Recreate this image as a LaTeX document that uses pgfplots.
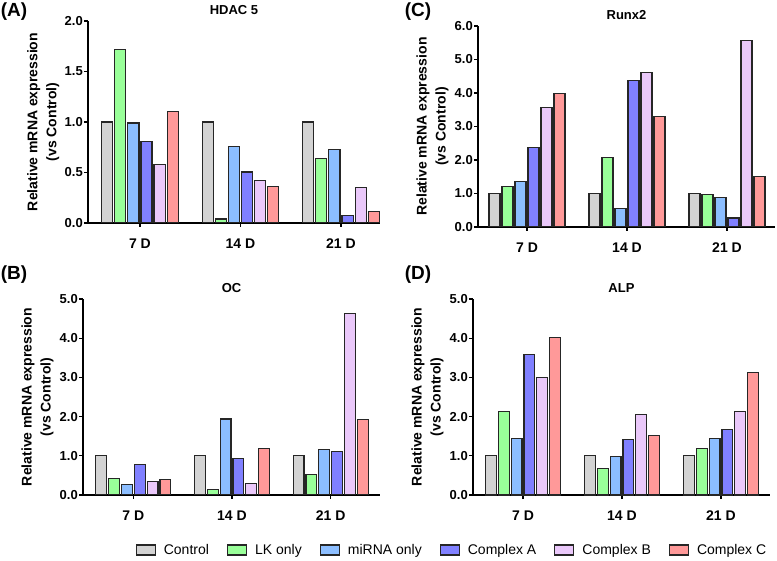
\documentclass[border=0pt]{standalone}
\usepackage{fontspec}
\setmainfont{Liberation Sans}
\usepackage{pgfplots}
\usepackage{pgfplotstable}
\pgfplotsset{compat=1.18}

\definecolor{cctrl}{RGB}{211,211,211}
\definecolor{clk}{RGB}{153,255,153}
\definecolor{cmir}{RGB}{140,190,255}
\definecolor{cca}{RGB}{128,128,255}
\definecolor{ccb}{RGB}{234,200,250}
\definecolor{ccc}{RGB}{255,153,153}

% x: 0 = 7 D, 1 = 14 D, 2 = 21 D
\pgfplotstableread{
x ctrl lk mir ca cb cc
0 1.00 1.72 0.99 0.81 0.58 1.10
1 1.00 0.04 0.76 0.505 0.42 0.36
2 1.00 0.635 0.73 0.07 0.355 0.11
}\hdac
\pgfplotstableread{
x ctrl lk mir ca cb cc
0 1.00 1.22 1.35 2.37 3.56 3.99
1 1.00 2.07 0.55 4.37 4.62 3.29
2 1.00 0.98 0.89 0.27 5.57 1.52
}\runx
\pgfplotstableread{
x ctrl lk mir ca cb cc
0 1.00 0.43 0.26 0.78 0.35 0.39
1 1.00 0.15 1.94 0.92 0.29 1.18
2 1.00 0.53 1.15 1.12 4.63 1.92
}\oc
\pgfplotstableread{
x ctrl lk mir ca cb cc
0 1.00 2.14 1.43 3.59 2.99 4.01
1 1.00 0.68 0.98 1.42 2.06 1.51
2 1.00 1.19 1.45 1.67 2.12 3.13
}\alp

\pgfplotsset{
  panel/.style={
    scale only axis, anchor=south west,
    ybar, bar width=0.11, ymin=0, enlargelimits=false,
    axis lines*=left, axis line style={line width=1.3pt},
    xtick={0,1,2}, xticklabels={7 D,14 D,21 D},
    tick align=outside, major tick length=4pt,
    tick style={line width=1.3pt, black},
    xticklabel style={font=\fontsize{14}{14}\selectfont\bfseries, yshift=-8pt},
    yticklabel style={font=\fontsize{13}{13}\selectfont\bfseries, inner sep=1pt,
      /pgf/number format/.cd, fixed, fixed zerofill, precision=1, assume math mode=true},
    title style={font=\fontsize{13}{13}\selectfont\bfseries, at={(0.5,1)}, anchor=center, yshift=5pt},
    ylabel={Relative mRNA expression\\(vs Control)},
    ylabel style={font=\fontsize{14}{19}\selectfont\bfseries, align=center,
      at={(axis description cs:-0.153,0.5)}, anchor=center},
  },
  bars/.style={draw=black!85, line width=1.1pt,
    legend image code/.code={\draw[##1] (0pt,-5pt) rectangle (19pt,5pt);}},
  s1/.style={bars, fill=cctrl, bar shift=-0.325},
  s2/.style={bars, fill=clk, bar shift=-0.195},
  s3/.style={bars, fill=cmir, bar shift=-0.065},
  s4/.style={bars, fill=cca, bar shift=0.065},
  s5/.style={bars, fill=ccb, bar shift=0.195},
  s6/.style={bars, fill=ccc, bar shift=0.325},
}

\begin{document}
\begin{tikzpicture}
\useasboundingbox (0,0) rectangle (777pt,560pt);

\node[font=\fontsize{19}{19}\selectfont\bfseries] at (14pt,548pt) {(A)};
\node[font=\fontsize{19}{19}\selectfont\bfseries] at (418pt,548pt) {(C)};
\node[font=\fontsize{19}{19}\selectfont\bfseries] at (14pt,285pt) {(B)};
\node[font=\fontsize{19}{19}\selectfont\bfseries] at (418pt,285pt) {(D)};

% (A) HDAC 5
\begin{axis}[panel, at={(88pt,337pt)}, width=292pt, height=202pt,
  xmin=-0.517, xmax=2.388, ymax=2, ytick={0,0.5,1,1.5,2}, title={HDAC 5}]
  \addplot[s1] table[x=x,y=ctrl]{\hdac};
  \addplot[s2] table[x=x,y=lk]{\hdac};
  \addplot[s3] table[x=x,y=mir]{\hdac};
  \addplot[s4] table[x=x,y=ca]{\hdac};
  \addplot[s5] table[x=x,y=cb]{\hdac};
  \addplot[s6] table[x=x,y=cc]{\hdac};
\end{axis}

% (C) Runx2
\begin{axis}[panel, at={(478pt,333pt)}, width=297pt, height=201pt,
  xmin=-0.49, xmax=2.48, ymax=6, ytick={0,1,...,6}, title={Runx2}]
  \addplot[s1] table[x=x,y=ctrl]{\runx};
  \addplot[s2] table[x=x,y=lk]{\runx};
  \addplot[s3] table[x=x,y=mir]{\runx};
  \addplot[s4] table[x=x,y=ca]{\runx};
  \addplot[s5] table[x=x,y=cb]{\runx};
  \addplot[s6] table[x=x,y=cc]{\runx};
\end{axis}

% (B) OC
\begin{axis}[panel, at={(83pt,65pt)}, width=297pt, height=196pt,
  xmin=-0.51, xmax=2.5, ymax=5, ytick={0,1,...,5}, title={OC}]
  \addplot[s1] table[x=x,y=ctrl]{\oc};
  \addplot[s2] table[x=x,y=lk]{\oc};
  \addplot[s3] table[x=x,y=mir]{\oc};
  \addplot[s4] table[x=x,y=ca]{\oc};
  \addplot[s5] table[x=x,y=cb]{\oc};
  \addplot[s6] table[x=x,y=cc]{\oc};
\end{axis}

% (D) ALP, carries the shared legend
\begin{axis}[panel, at={(473pt,65pt)}, width=297pt, height=196pt,
  xmin=-0.505, xmax=2.495, ymax=5, ytick={0,1,...,5}, title={ALP},
  legend columns=6,
  legend style={at={(axis description cs:-0.0707,-0.2806)}, anchor=center,
    draw=none, fill=none, font=\fontsize{14}{14}\selectfont,
    /tikz/every odd column/.append style={column sep=6pt},
    /tikz/every even column/.append style={column sep=16pt}}]
  \addplot[s1] table[x=x,y=ctrl]{\alp}; \addlegendentry{Control}
  \addplot[s2] table[x=x,y=lk]{\alp}; \addlegendentry{LK only}
  \addplot[s3] table[x=x,y=mir]{\alp}; \addlegendentry{miRNA only}
  \addplot[s4] table[x=x,y=ca]{\alp}; \addlegendentry{Complex A}
  \addplot[s5] table[x=x,y=cb]{\alp}; \addlegendentry{Complex B}
  \addplot[s6] table[x=x,y=cc]{\alp}; \addlegendentry{Complex C}
\end{axis}
\end{tikzpicture}
\end{document}
